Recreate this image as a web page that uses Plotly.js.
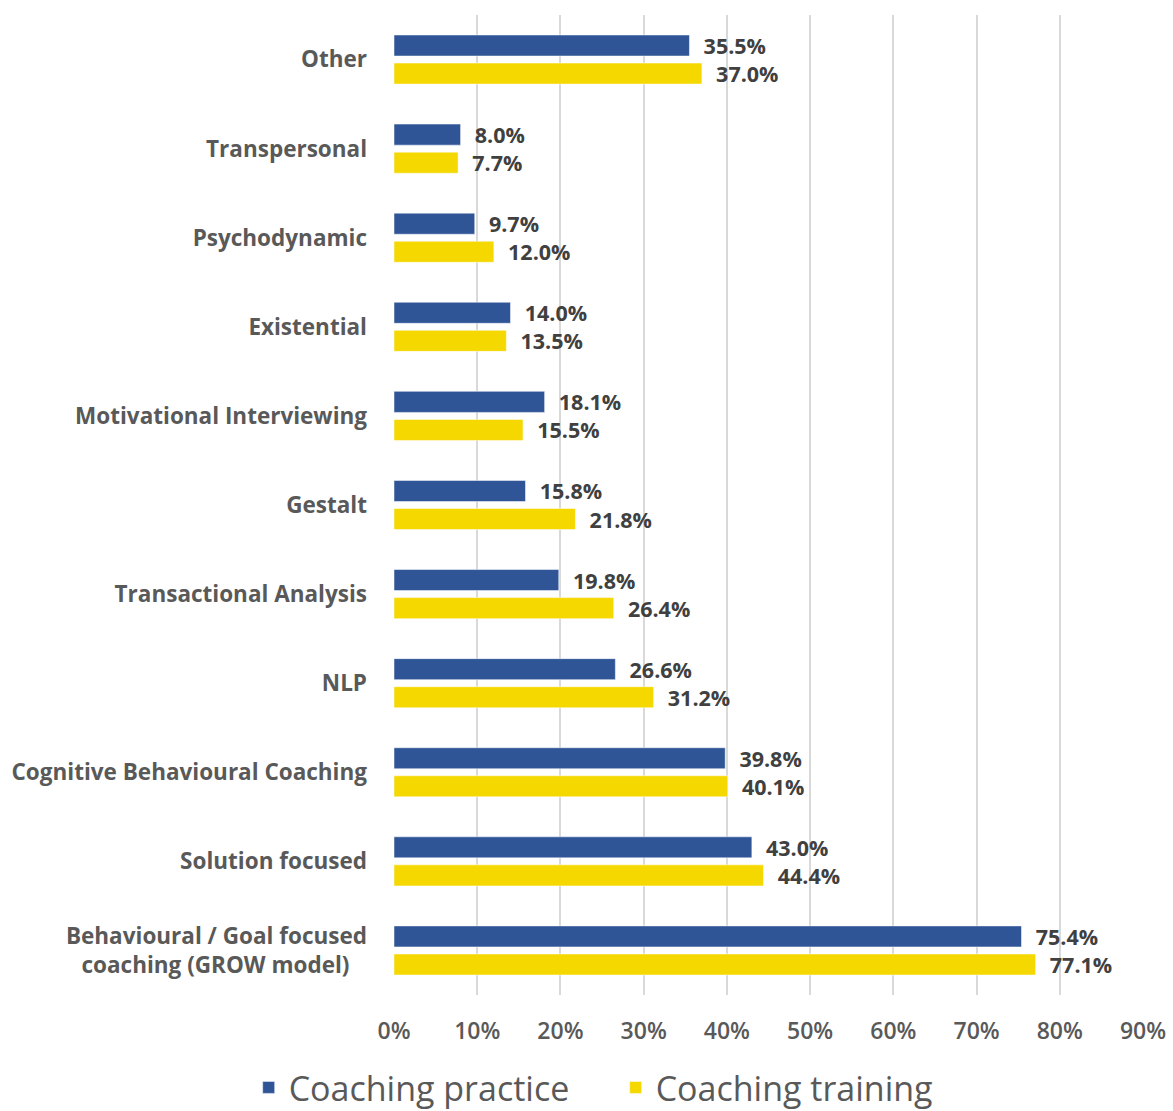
<!DOCTYPE html>
<html>
<head>
<meta charset="utf-8">
<script src="https://cdn.plot.ly/plotly-3.0.1.min.js"></script>
<style>html,body{margin:0;padding:0;background:#fff;}#chart{width:1173px;height:1111px;}</style>
</head>
<body>
<div id="chart"></div>
<script>
const categories = [
  "Behavioural / Goal focused<br>coaching (GROW model)\u00a0\u00a0\u00a0",
  "Solution focused",
  "Cognitive Behavioural Coaching",
  "NLP",
  "Transactional Analysis",
  "Gestalt",
  "Motivational Interviewing",
  "Existential",
  "Psychodynamic",
  "Transpersonal",
  "Other"
];
const practice = [75.4, 43.0, 39.8, 26.6, 19.8, 15.8, 18.1, 14.0, 9.7, 8.0, 35.5];
const training = [77.1, 44.4, 40.1, 31.2, 26.4, 21.8, 15.5, 13.5, 12.0, 7.7, 37.0];
const tickVals = [0, 10, 20, 30, 40, 50, 60, 70, 80, 90];
const tickText = ["0%", "10%", "20%", "30%", "40%", "50%", "60%", "70%", "80%", "90%"];

const labelFont = {family: "'Open Sans', sans-serif", size: 21.5, color: "#404040", weight: 700};

const traces = [
  {
    type: "bar", orientation: "h", name: "Coaching training",
    y: categories, x: training,
    marker: {color: "#F5D800", line: {color: "#ffffff", width: 0.5}},
    text: training.map(v => "\u00a0\u00a0" + v.toFixed(1) + "%"),
    textposition: "outside", textfont: labelFont, constraintext: "none",
    cliponaxis: false, hoverinfo: "x+y"
  },
  {
    type: "bar", orientation: "h", name: "Coaching practice",
    y: categories, x: practice,
    marker: {color: "#2F5597", line: {color: "#ffffff", width: 0.5}},
    text: practice.map(v => "\u00a0\u00a0" + v.toFixed(1) + "%"),
    textposition: "outside", textfont: labelFont, constraintext: "none",
    cliponaxis: false, hoverinfo: "x+y"
  }
];

const layout = {
  width: 1173, height: 1111,
  margin: {l: 394, r: 30, t: 15, b: 116},
  paper_bgcolor: "#ffffff", plot_bgcolor: "#ffffff",
  barmode: "group", bargap: 0.37, bargroupgap: 0.25,
  font: {family: "'Open Sans', sans-serif", color: "#595959"},
  xaxis: {
    range: [0, 90], tickvals: tickVals, ticktext: tickText,
    showgrid: true, gridcolor: "#D9D9D9", gridwidth: 2,
    zeroline: false, showline: false, ticks: "",
    ticklabelstandoff: 20,
    tickfont: {size: 23, color: "#595959", weight: 600}
  },
  yaxis: {
    type: "category", categoryorder: "array", categoryarray: categories,
    showgrid: false, zeroline: false, showline: false, ticks: "",
    ticklabelstandoff: 26,
    tickfont: {size: 22.5, color: "#595959", weight: 700}
  },
  showlegend: true,
  legend: {
    orientation: "h", traceorder: "reversed",
    xref: "container", yref: "container",
    x: 0.212, xanchor: "left", y: 0.047, yanchor: "top",
    font: {size: 34, color: "#595959", weight: 500},
    itemwidth: 30, entrywidth: 322
  }
};

Plotly.newPlot("chart", traces, layout, {displayModeBar: false, staticPlot: true});
</script>
</body>
</html>
